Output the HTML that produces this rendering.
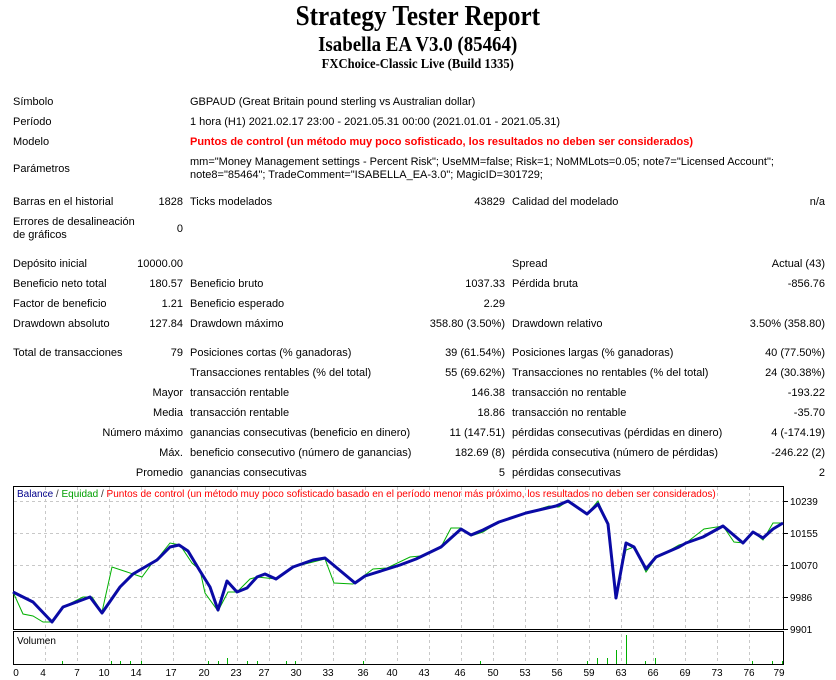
<!DOCTYPE html>
<html><head><meta charset="utf-8"><style>
body{margin:0;width:836px;height:680px;background:#fff;position:relative;overflow:hidden;font-family:"Liberation Sans",sans-serif;font-size:11px;color:#000}
.t{position:absolute;white-space:nowrap;line-height:13px}
.r{position:absolute;white-space:nowrap;line-height:13px;text-align:right}
.h{position:absolute;left:0;width:836px;text-align:center;font-family:"Liberation Serif",serif;font-weight:bold;white-space:nowrap}
.h span{display:inline-block;transform:scaleX(0.9)}
#tb{position:absolute;left:0;top:2px;width:836px;height:480px}
</style></head><body>
<div class="h" style="top:1px;font-size:28px;line-height:32px"><span>Strategy Tester Report</span></div>
<div class="h" style="top:31px;font-size:21px;line-height:26px"><span>Isabella EA V3.0 (85464)</span></div>
<div class="h" style="top:57px;font-size:14px;line-height:16px"><span>FXChoice-Classic Live (Build 1335)</span></div>
<div id="tb">
<div class="t" style="left:13px;top:94px">Símbolo</div>
<div class="t" style="left:190px;top:94px">GBPAUD (Great Britain pound sterling vs Australian dollar)</div>
<div class="t" style="left:13px;top:114px">Período</div>
<div class="t" style="left:190px;top:114px">1 hora (H1) 2021.02.17 23:00 - 2021.05.31 00:00 (2021.01.01 - 2021.05.31)</div>
<div class="t" style="left:13px;top:134px">Modelo</div>
<div class="t" style="left:190px;top:134px;color:#f00;font-weight:bold">Puntos de control (un método muy poco sofisticado, los resultados no deben ser considerados)</div>
<div class="t" style="left:13px;top:161px">Parámetros</div>
<div class="t" style="left:190px;top:154px">mm="Money Management settings - Percent Risk"; UseMM=false; Risk=1; NoMMLots=0.05; note7="Licensed Account";</div>
<div class="t" style="left:190px;top:167px">note8="85464"; TradeComment="ISABELLA_EA-3.0"; MagicID=301729;</div>

<div class="t" style="left:13px;top:194px">Barras en el historial</div>
<div class="r" style="right:653px;top:194px">1828</div>
<div class="t" style="left:190px;top:194px">Ticks modelados</div>
<div class="r" style="right:331px;top:194px">43829</div>
<div class="t" style="left:512px;top:194px">Calidad del modelado</div>
<div class="r" style="right:11px;top:194px">n/a</div>
<div class="t" style="left:13px;top:214px">Errores de desalineación<br>de gráficos</div>
<div class="r" style="right:653px;top:221px">0</div>

<div class="t" style="left:13px;top:256px">Depósito inicial</div>
<div class="r" style="right:653px;top:256px">10000.00</div>
<div class="t" style="left:512px;top:256px">Spread</div>
<div class="r" style="right:11px;top:256px">Actual (43)</div>
<div class="t" style="left:13px;top:276px">Beneficio neto total</div>
<div class="r" style="right:653px;top:276px">180.57</div>
<div class="t" style="left:190px;top:276px">Beneficio bruto</div>
<div class="r" style="right:331px;top:276px">1037.33</div>
<div class="t" style="left:512px;top:276px">Pérdida bruta</div>
<div class="r" style="right:11px;top:276px">-856.76</div>
<div class="t" style="left:13px;top:296px">Factor de beneficio</div>
<div class="r" style="right:653px;top:296px">1.21</div>
<div class="t" style="left:190px;top:296px">Beneficio esperado</div>
<div class="r" style="right:331px;top:296px">2.29</div>
<div class="t" style="left:13px;top:316px">Drawdown absoluto</div>
<div class="r" style="right:653px;top:316px">127.84</div>
<div class="t" style="left:190px;top:316px">Drawdown máximo</div>
<div class="r" style="right:331px;top:316px">358.80 (3.50%)</div>
<div class="t" style="left:512px;top:316px">Drawdown relativo</div>
<div class="r" style="right:11px;top:316px">3.50% (358.80)</div>

<div class="t" style="left:13px;top:345px">Total de transacciones</div>
<div class="r" style="right:653px;top:345px">79</div>
<div class="t" style="left:190px;top:345px">Posiciones cortas (% ganadoras)</div>
<div class="r" style="right:331px;top:345px">39 (61.54%)</div>
<div class="t" style="left:512px;top:345px">Posiciones largas (% ganadoras)</div>
<div class="r" style="right:11px;top:345px">40 (77.50%)</div>
<div class="t" style="left:190px;top:365px">Transacciones rentables (% del total)</div>
<div class="r" style="right:331px;top:365px">55 (69.62%)</div>
<div class="t" style="left:512px;top:365px">Transacciones no rentables (% del total)</div>
<div class="r" style="right:11px;top:365px">24 (30.38%)</div>
<div class="r" style="right:653px;top:385px">Mayor</div>
<div class="t" style="left:190px;top:385px">transacción rentable</div>
<div class="r" style="right:331px;top:385px">146.38</div>
<div class="t" style="left:512px;top:385px">transacción no rentable</div>
<div class="r" style="right:11px;top:385px">-193.22</div>
<div class="r" style="right:653px;top:405px">Media</div>
<div class="t" style="left:190px;top:405px">transacción rentable</div>
<div class="r" style="right:331px;top:405px">18.86</div>
<div class="t" style="left:512px;top:405px">transacción no rentable</div>
<div class="r" style="right:11px;top:405px">-35.70</div>
<div class="r" style="right:653px;top:425px">Número máximo</div>
<div class="t" style="left:190px;top:425px">ganancias consecutivas (beneficio en dinero)</div>
<div class="r" style="right:331px;top:425px">11 (147.51)</div>
<div class="t" style="left:512px;top:425px">pérdidas consecutivas (pérdidas en dinero)</div>
<div class="r" style="right:11px;top:425px">4 (-174.19)</div>
<div class="r" style="right:653px;top:445px">Máx.</div>
<div class="t" style="left:190px;top:445px">beneficio consecutivo (número de ganancias)</div>
<div class="r" style="right:331px;top:445px">182.69 (8)</div>
<div class="t" style="left:512px;top:445px">pérdida consecutiva (número de pérdidas)</div>
<div class="r" style="right:11px;top:445px">-246.22 (2)</div>
<div class="r" style="right:653px;top:465px">Promedio</div>
<div class="t" style="left:190px;top:465px">ganancias consecutivas</div>
<div class="r" style="right:331px;top:465px">5</div>
<div class="t" style="left:512px;top:465px">pérdidas consecutivas</div>
<div class="r" style="right:11px;top:465px">2</div>
</div>

<svg style="position:absolute;left:0;top:0" width="836" height="680" font-family="Liberation Sans, sans-serif" font-size="10">
<g stroke="#c8c8c8" stroke-dasharray="3,3" stroke-width="1">
<line x1="14" y1="501.5" x2="783" y2="501.5"/><line x1="14" y1="533.5" x2="783" y2="533.5"/><line x1="14" y1="565.5" x2="783" y2="565.5"/><line x1="14" y1="597.5" x2="783" y2="597.5"/>
<line x1="45.5" y1="487" x2="45.5" y2="628"/><line x1="77.5" y1="487" x2="77.5" y2="628"/><line x1="109.5" y1="487" x2="109.5" y2="628"/><line x1="141.5" y1="487" x2="141.5" y2="628"/><line x1="173.5" y1="487" x2="173.5" y2="628"/><line x1="205.5" y1="487" x2="205.5" y2="628"/><line x1="237.5" y1="487" x2="237.5" y2="628"/><line x1="269.5" y1="487" x2="269.5" y2="628"/><line x1="301.5" y1="487" x2="301.5" y2="628"/><line x1="333.5" y1="487" x2="333.5" y2="628"/><line x1="365.5" y1="487" x2="365.5" y2="628"/><line x1="397.5" y1="487" x2="397.5" y2="628"/><line x1="429.5" y1="487" x2="429.5" y2="628"/><line x1="461.5" y1="487" x2="461.5" y2="628"/><line x1="493.5" y1="487" x2="493.5" y2="628"/><line x1="525.5" y1="487" x2="525.5" y2="628"/><line x1="557.5" y1="487" x2="557.5" y2="628"/><line x1="589.5" y1="487" x2="589.5" y2="628"/><line x1="621.5" y1="487" x2="621.5" y2="628"/><line x1="653.5" y1="487" x2="653.5" y2="628"/><line x1="685.5" y1="487" x2="685.5" y2="628"/><line x1="717.5" y1="487" x2="717.5" y2="628"/><line x1="749.5" y1="487" x2="749.5" y2="628"/>
<line x1="45.5" y1="634" x2="45.5" y2="663"/><line x1="77.5" y1="634" x2="77.5" y2="663"/><line x1="109.5" y1="634" x2="109.5" y2="663"/><line x1="141.5" y1="634" x2="141.5" y2="663"/><line x1="173.5" y1="634" x2="173.5" y2="663"/><line x1="205.5" y1="634" x2="205.5" y2="663"/><line x1="237.5" y1="634" x2="237.5" y2="663"/><line x1="269.5" y1="634" x2="269.5" y2="663"/><line x1="301.5" y1="634" x2="301.5" y2="663"/><line x1="333.5" y1="634" x2="333.5" y2="663"/><line x1="365.5" y1="634" x2="365.5" y2="663"/><line x1="397.5" y1="634" x2="397.5" y2="663"/><line x1="429.5" y1="634" x2="429.5" y2="663"/><line x1="461.5" y1="634" x2="461.5" y2="663"/><line x1="493.5" y1="634" x2="493.5" y2="663"/><line x1="525.5" y1="634" x2="525.5" y2="663"/><line x1="557.5" y1="634" x2="557.5" y2="663"/><line x1="589.5" y1="634" x2="589.5" y2="663"/><line x1="621.5" y1="634" x2="621.5" y2="663"/><line x1="653.5" y1="634" x2="653.5" y2="663"/><line x1="685.5" y1="634" x2="685.5" y2="663"/><line x1="717.5" y1="634" x2="717.5" y2="663"/><line x1="749.5" y1="634" x2="749.5" y2="663"/>
</g>
<rect x="13.5" y="486.5" width="770" height="143" fill="none" stroke="#000"/>
<rect x="13.5" y="631.5" width="770" height="33" fill="none" stroke="#000"/>
<g stroke="#000"><line x1="784" y1="501.5" x2="788" y2="501.5"/><line x1="784" y1="533.5" x2="788" y2="533.5"/><line x1="784" y1="565.5" x2="788" y2="565.5"/><line x1="784" y1="597.5" x2="788" y2="597.5"/><line x1="784" y1="629.5" x2="788" y2="629.5"/></g>
<g font-size="10"><text x="790" y="505">10239</text><text x="790" y="537">10155</text><text x="790" y="569">10070</text><text x="790" y="601">9986</text><text x="790" y="633">9901</text></g>
<text x="17" y="497" font-size="10"><tspan fill="#00008b">Balance</tspan><tspan fill="#333"> / </tspan><tspan fill="#00a000">Equidad</tspan><tspan fill="#333"> / </tspan><tspan fill="#f00">Puntos de control (un método muy poco sofisticado basado en el período menor más próximo, los resultados no deben ser considerados)</tspan></text>
<text x="17" y="644" font-size="10" fill="#000">Volumen</text>
<polyline fill="none" stroke="#00b000" stroke-width="1" points="13,592 23,614 33,616 43,622 53,622 63,607 83,597 92,597 102,612 112,567 142,577 153,562 158,558 170,543 180,545 192,563 200,570 205,593 218,611 228,592 237,592 250,579 257,577 276,579 293,567 325,559 334,583 353,584 373,569 387,568 410,557 420,556 416,559 441,547 451,528 461,528 471,536 483,532 499,522 526,513 549,506 559,507 568,501 587,514 598,501 608,524 616,593 626,550 634,547 646,572 656,558 679,545 686,543 704,529 723,526 734,542 744,543 753,532 763,540 773,523 783,523"/>
<polyline fill="none" stroke="#0a0aa5" stroke-width="3" stroke-linejoin="round" points="13,592 33,602 52,622 63,607 90,597 102,613 120,587 133,574 157,560 170,547 179,545 188,551 200,571 210,587 218,610 227,581 237,592 247,588 257,577 265,574 276,579 293,567 313,560 325,558 355,583 365,576 400,565 416,559 441,547 461,529 471,535 483,530 499,522 526,513 556,506 568,501 587,514 598,504 608,524 616,598 626,543 634,547 646,569 656,557 679,547 686,543 703,537 723,526 743,543 753,532 763,538 773,529 783,523"/>
<g stroke="#00b000" stroke-width="1">
<line x1="62.5" y1="664" x2="62.5" y2="661"/><line x1="111.5" y1="664" x2="111.5" y2="661"/><line x1="120.5" y1="664" x2="120.5" y2="661"/><line x1="130.5" y1="664" x2="130.5" y2="661"/><line x1="141.5" y1="664" x2="141.5" y2="661"/><line x1="208.5" y1="664" x2="208.5" y2="661"/><line x1="218.5" y1="664" x2="218.5" y2="661"/><line x1="227.5" y1="664" x2="227.5" y2="658"/><line x1="247.5" y1="664" x2="247.5" y2="661"/><line x1="257.5" y1="664" x2="257.5" y2="661"/><line x1="286.5" y1="664" x2="286.5" y2="661"/><line x1="295.5" y1="664" x2="295.5" y2="661"/><line x1="363.5" y1="664" x2="363.5" y2="661"/><line x1="480.5" y1="664" x2="480.5" y2="661"/><line x1="587.5" y1="664" x2="587.5" y2="661"/><line x1="597.5" y1="664" x2="597.5" y2="658"/><line x1="607.5" y1="664" x2="607.5" y2="658"/><line x1="616.5" y1="664" x2="616.5" y2="650"/><line x1="626.5" y1="664" x2="626.5" y2="635"/><line x1="645.5" y1="664" x2="645.5" y2="661"/><line x1="655.5" y1="664" x2="655.5" y2="658"/><line x1="752.5" y1="664" x2="752.5" y2="661"/><line x1="772.5" y1="664" x2="772.5" y2="661"/><line x1="782.5" y1="664" x2="782.5" y2="661"/>
</g>
<g font-size="10" text-anchor="middle">
<text x="16" y="676">0</text><text x="43" y="676">4</text><text x="77" y="676">7</text><text x="104" y="676">10</text><text x="136" y="676">14</text><text x="171" y="676">17</text><text x="204" y="676">20</text><text x="236" y="676">23</text><text x="264" y="676">27</text><text x="296" y="676">30</text><text x="328" y="676">33</text><text x="363" y="676">36</text><text x="392" y="676">40</text><text x="424" y="676">43</text><text x="460" y="676">46</text><text x="493" y="676">50</text><text x="525" y="676">53</text><text x="557" y="676">56</text><text x="589" y="676">59</text><text x="621" y="676">63</text><text x="653" y="676">66</text><text x="685" y="676">69</text><text x="717" y="676">73</text><text x="749" y="676">76</text><text x="779" y="676">79</text>
</g>
</svg>
</body></html>
